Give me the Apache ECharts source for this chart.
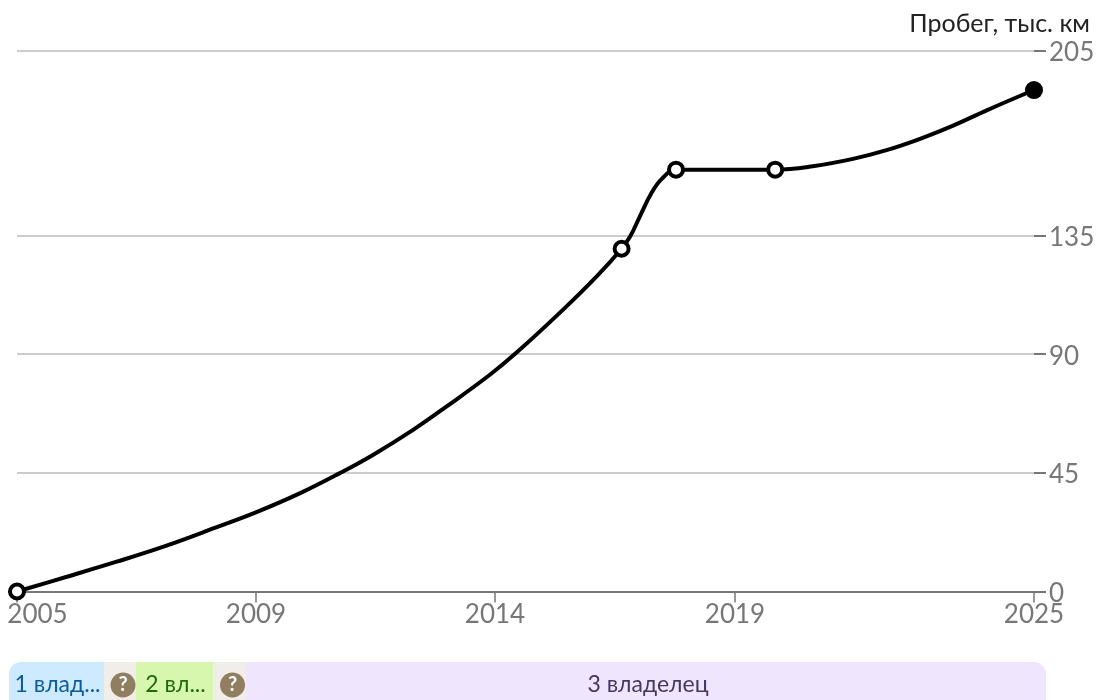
<!DOCTYPE html>
<html><head><meta charset="utf-8">
<style>html,body{margin:0;padding:0;background:#fff;overflow:hidden}#c{width:1096px;height:700px}</style>
<script src="https://cdn.jsdelivr.net/npm/echarts@6/dist/echarts.min.js"></script>
</head><body><div id="c"></div>
<script>
// Mileage curve: [year, thousand km]
var mileage = [[2005,0],[2005.98,5.6],[2006.96,11.3],[2007.94,17.4],[2008.93,24.4],[2009.71,30.1],[2010.57,37.3],[2011.35,44.9],[2012.0,51.8],[2012.79,61.3],[2013.45,70.2],[2014.30,82.2],[2014.83,90.7],[2015.74,106.9],[2016.4,119.5],[2016.89,130],[2017.06,134.7],[2017.25,142.3],[2017.48,151.2],[2017.68,156.5],[2017.96,160],[2019.91,160],[2020.65,161.3],[2021.44,164.1],[2022.10,167.4],[2022.76,171.7],[2023.41,176.7],[2024.07,182.5],[2025,190.2]];
var markers = [[2005,0],[2016.89,130],[2017.96,160],[2019.91,160]];
var lastPoint = [[2025,190.2]];
var xTicks = [2005,2009.7,2014.4,2019.12,2025];
var yTicks = [0,45,90,135,205];
var owners = ['1 влад...','?','2 вл...','?','3 владелец'];
var ownerSpans = [95,32,77,33,800];
var ownerFill = ['#cdeaff','#f1eee9','#d8f7ae','#f1eee9','#efe5fd'];
var ownerText = ['#0b5c9c','#fff','#1f6b0c','#fff','#46385f'];

var chart = echarts.init(document.getElementById('c'), null, {renderer:'canvas'});
var ownerSeries = owners.map(function(n,i){
  var last = owners.length-1;
  return {type:'bar', stack:'o', xAxisIndex:1, yAxisIndex:1, barWidth:'100%', silent:true,
    data:[{value:ownerSpans[i], name:n}],
    itemStyle:{color:ownerFill[i], borderRadius: i===0?[12,0,0,12]:(i===last?[0,12,12,0]:0)},
    label:{show:true, position:'inside', formatter: n==='?'?'{q|?}':n, color:ownerText[i],
      fontFamily:'Lato, "Noto Sans"', fontSize:23, offset:[n==='?'?3:(i===last?2:1),-2],
      rich:{q:{backgroundColor:'#8f7e5f', borderRadius:13, width:25, height:25, lineHeight:25, align:'center', color:'#fff', fontWeight:'bold', fontSize:20, fontFamily:'Lato'}}}
  };
});
chart.setOption({
  animation:false,
  textStyle:{fontFamily:'Lato'},
  title:{text:'Пробег, тыс. км', right:1, top:6, textStyle:{fontFamily:'Lato', fontSize:25, fontWeight:'normal', color:'#222'}},
  grid:[{left:17,right:62,top:51,height:540.5,outerBoundsMode:'none'},{left:9,width:1037,top:662,height:50,outerBoundsMode:'none'}],
  xAxis:[{type:'value',gridIndex:0,min:2005,max:2025,splitLine:{show:false},
    axisLine:{lineStyle:{color:'#777',width:2}},
    axisTick:{show:true,customValues:xTicks,length:11,lineStyle:{color:'#777',width:1.5}},
    axisLabel:{customValues:xTicks,color:'#777',fontSize:26,fontFamily:'Lato',margin:10,hideOverlap:false,showMinLabel:true,showMaxLabel:true,
      rich:{first:{padding:[0,0,0,41],color:'#777',fontSize:26,fontFamily:'Lato'}},
      formatter:function(v){var s=String(Math.floor(v)); return v===xTicks[0]?'{first|'+s+'}':s;}}},
    {type:'value',gridIndex:1,min:0,max:1037,show:false}],
  yAxis:[{type:'value',gridIndex:0,position:'right',min:0,max:205,
    axisLine:{show:false},
    axisTick:{show:true,customValues:yTicks,length:12,lineStyle:{color:'#777',width:2}},
    axisLabel:{customValues:yTicks,color:'#777',fontSize:26,fontFamily:'Lato',margin:15,showMinLabel:true,showMaxLabel:true,
      rich:{v:{padding:[4,0,0,0],color:'#777',fontSize:26,fontFamily:'Lato'}},
      formatter:function(v){return '{v|'+v+'}';}},
    splitLine:{show:false}},
    {type:'category',gridIndex:1,data:['o'],show:false}],
  series:[
    {type:'line',xAxisIndex:0,yAxisIndex:0,data:[],silent:true,z:1,
     markLine:{silent:true,symbol:'none',label:{show:false},lineStyle:{color:'#ccc',width:2,type:'solid'},
       data:yTicks.slice(1).map(function(v){return {yAxis:v};})}},
    {type:'line',xAxisIndex:0,yAxisIndex:0,data:mileage,smooth:0.4,showSymbol:false,symbol:'none',clip:false,z:5,
     lineStyle:{color:'#000',width:4}},
    {type:'scatter',xAxisIndex:0,yAxisIndex:0,data:markers,symbolSize:14,clip:false,z:6,itemStyle:{color:'#fff',borderColor:'#000',borderWidth:4,opacity:1}},
    {type:'scatter',xAxisIndex:0,yAxisIndex:0,data:lastPoint,symbolSize:18,clip:false,z:6,itemStyle:{color:'#000',opacity:1}}
  ].concat(ownerSeries)
});
</script></body></html>
